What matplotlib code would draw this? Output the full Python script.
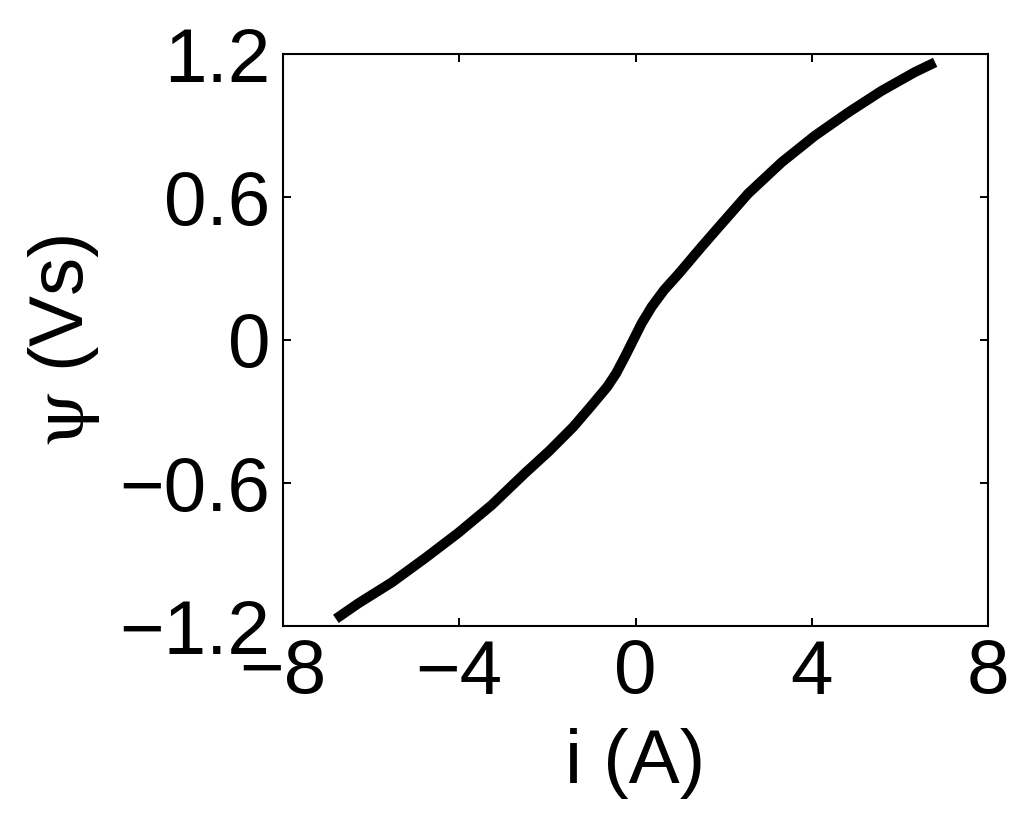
import matplotlib
matplotlib.use("Agg")
import matplotlib.pyplot as plt

# Data
current_A = [-6.80, -6.29, -5.53, -4.78, -4.02, -3.26, -2.51, -1.96, -1.41, -1.02,
             -0.64, -0.44, -0.24, -0.05, 0.14, 0.37, 0.65, 0.99, 1.48, 1.88,
             2.56, 3.32, 4.07, 4.83, 5.59, 6.34, 6.80]
flux_Vs = [-1.170, -1.105, -1.017, -0.916, -0.809, -0.692, -0.559, -0.466, -0.364, -0.280,
           -0.196, -0.140, -0.070, 0.000, 0.070, 0.140, 0.210, 0.280, 0.387, 0.472,
           0.615, 0.746, 0.857, 0.955, 1.046, 1.124, 1.165]

x_ticks = [-8, -4, 0, 4, 8]
x_ticklabels = ["\u22128", "\u22124", "0", "4", "8"]
y_ticks = [-1.2, -0.6, 0, 0.6, 1.2]
y_ticklabels = ["\u22121.2", "\u22120.6", "0", "0.6", "1.2"]

plt.rcParams['font.family'] = ['Liberation Sans', 'DejaVu Sans']
plt.rcParams['mathtext.fontset'] = 'stix'

W, H = 1034, 825
fig = plt.figure(figsize=(W / 100, H / 100), dpi=100)
L, R, T, B = 283, 988, 54, 626
ax = fig.add_axes([L / W, 1 - B / H, (R - L) / W, (B - T) / H])

ax.plot(current_A, flux_Vs, color='black', linewidth=7.2, solid_capstyle='butt',
        solid_joinstyle='round')

ax.set_xlim(-8, 8)
ax.set_ylim(-1.2, 1.2)
ax.set_xticks(x_ticks)
ax.set_xticklabels(x_ticklabels)
ax.set_yticks(y_ticks)
ax.set_yticklabels(y_ticklabels)

fs = 55
ax.tick_params(direction='in', length=5.5, width=1.4, top=True, right=True,
               labelsize=fs, pad=9, colors='black')
for s in ax.spines.values():
    s.set_linewidth(1.5)
    s.set_color('black')

ax.set_xlabel("i (A)", fontsize=fs, va='baseline')
ax.xaxis.set_label_coords(0.5, (B - 782.7) / (B - T))
ax.set_ylabel(r"$\mathrm{\psi}$ (Vs)", fontsize=fs, va='center')
ax.yaxis.set_label_coords((64 - L) / (R - L), 0.5)

fig.savefig("out.png", dpi=100, facecolor='white')
